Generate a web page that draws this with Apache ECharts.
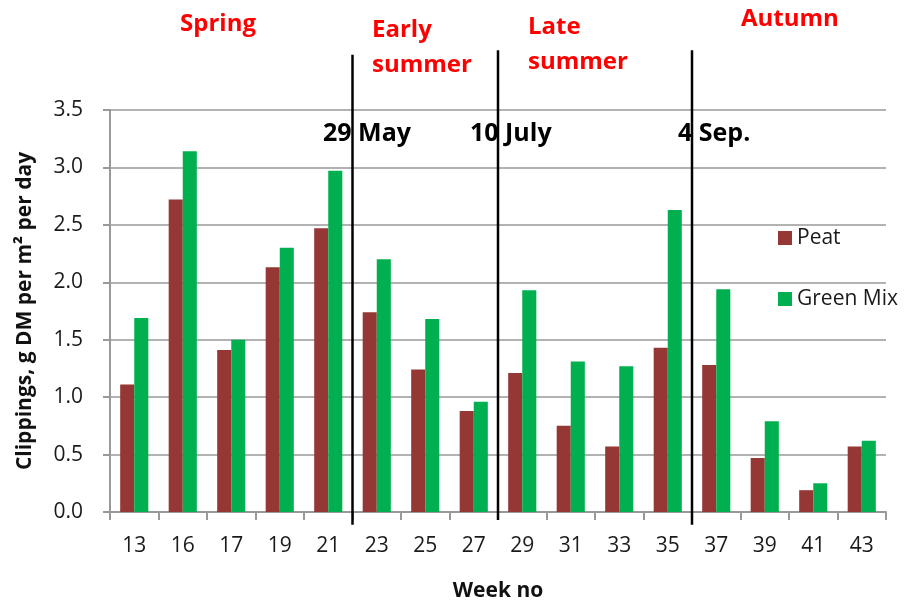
<!DOCTYPE html>
<html>
<head>
<meta charset="utf-8">
<script src="https://cdn.jsdelivr.net/npm/echarts@6/dist/echarts.min.js"></script>
<style>
  html, body { margin: 0; padding: 0; background: #fff; }
  #chart { width: 913px; height: 605px; }
</style>
</head>
<body>
<div id="chart"></div>
<script>
// week numbers on x axis
var weeks = ["13", "16", "17", "19", "21", "23", "25", "27", "29", "31", "33", "35", "37", "39", "41", "43"];
// clippings, g DM per m2 per day
var peat = [1.11, 2.72, 1.41, 2.13, 2.47, 1.74, 1.24, 0.88, 1.21, 0.75, 0.57, 1.43, 1.28, 0.47, 0.19, 0.57];
var greenMix = [1.69, 3.14, 1.50, 2.30, 2.97, 2.20, 1.68, 0.96, 1.93, 1.31, 1.27, 2.63, 1.94, 0.79, 0.25, 0.62];
var yTicks = ["0.0", "0.5", "1.0", "1.5", "2.0", "2.5", "3.0", "3.5"];
// season breaks: index of the first week after the break
var seasonBreaks = [5, 8, 12];

var font = "Open Sans";
var chart = echarts.init(document.getElementById("chart"));

var option = {
  animation: false,
  textStyle: { fontFamily: font },
  grid: { left: 110, right: 27, top: 110, bottom: 93, outerBoundsMode: "none" },
  legend: {
    orient: "vertical",
    left: 773,
    top: 222,
    itemWidth: 14,
    itemHeight: 14,
    itemGap: 39,
    icon: "rect",
    textStyle: { fontSize: 21, color: "#1a1a1a", fontFamily: font, lineHeight: 22 },
    data: ["Peat", "Green Mix"]
  },
  xAxis: {
    type: "category",
    data: weeks,
    name: "Week no",
    nameLocation: "middle",
    nameGap: 69,
    nameTextStyle: { fontSize: 21, fontWeight: "bold", color: "#111", fontFamily: font },
    axisLine: { lineStyle: { color: "#999", width: 2 } },
    axisTick: { show: true, length: 8, lineStyle: { color: "#999", width: 2 } },
    axisLabel: { fontSize: 21, color: "#1a1a1a", margin: 24, fontFamily: font }
  },
  yAxis: {
    type: "value",
    min: 0,
    max: 3.5,
    interval: 0.5,
    name: "Clippings, g DM per m² per day",
    nameLocation: "middle",
    nameGap: 74,
    nameTextStyle: { fontSize: 21, fontWeight: "bold", color: "#111", fontFamily: font },
    axisLine: { show: true, lineStyle: { color: "#999", width: 2 } },
    axisTick: { show: true, length: 7, lineStyle: { color: "#999", width: 2 } },
    splitLine: { show: true, lineStyle: { color: "#999", width: 1.5 } },
    axisLabel: {
      fontSize: 21,
      color: "#1a1a1a",
      margin: 27,
      fontFamily: font,
      formatter: function (v) { return yTicks[Math.round(v / 0.5)]; }
    }
  },
  series: [
    {
      name: "Peat",
      type: "bar",
      data: peat,
      barGap: "0%",
      barCategoryGap: "42%",
      itemStyle: { color: "#953735" }
    },
    {
      name: "Green Mix",
      type: "bar",
      data: greenMix,
      itemStyle: { color: "#00B050" }
    },
    {
      // vertical season separators
      type: "custom",
      silent: true,
      clip: false,
      data: seasonBreaks.map(function (b) { return [b]; }),
      renderItem: function (params, api) {
        var idx = seasonBreaks[params.dataIndex];
        var half = api.size([1, 0])[0] / 2;
        var top = api.coord([idx, idx === 5 ? 3.98 : 4.02]);
        var bot = api.coord([idx, idx === 8 ? -0.07 : -0.11]);
        return {
          type: "line",
          shape: { x1: top[0] - half, y1: top[1], x2: bot[0] - half, y2: bot[1] },
          style: { stroke: "#000", lineWidth: 2.5 }
        };
      },
      z: 5
    }
  ],
  graphic: [
    { type: "text", left: 180, top: 12, style: { text: "Spring", fontSize: 24, fontWeight: "bold", fill: "#ff0000", fontFamily: font } },
    { type: "text", left: 372, top: 13, style: { text: "Early\nsummer", fontSize: 24, lineHeight: 35, fontWeight: "bold", fill: "#ff0000", fontFamily: font } },
    { type: "text", left: 528, top: 10, style: { text: "Late\nsummer", fontSize: 24, lineHeight: 35, fontWeight: "bold", fill: "#ff0000", fontFamily: font } },
    { type: "text", left: 741, top: 7, style: { text: "Autumn", fontSize: 24, fontWeight: "bold", fill: "#ff0000", fontFamily: font } },
    { type: "text", left: 323, top: 121, style: { text: "29 May", fontSize: 25, fontWeight: "bold", fill: "#000", fontFamily: font } },
    { type: "text", left: 470, top: 121, style: { text: "10 July", fontSize: 25, fontWeight: "bold", fill: "#000", fontFamily: font } },
    { type: "text", left: 678, top: 121, style: { text: "4 Sep.", fontSize: 25, fontWeight: "bold", fill: "#000", fontFamily: font } }
  ]
};

chart.setOption(option);
</script>
</body>
</html>
